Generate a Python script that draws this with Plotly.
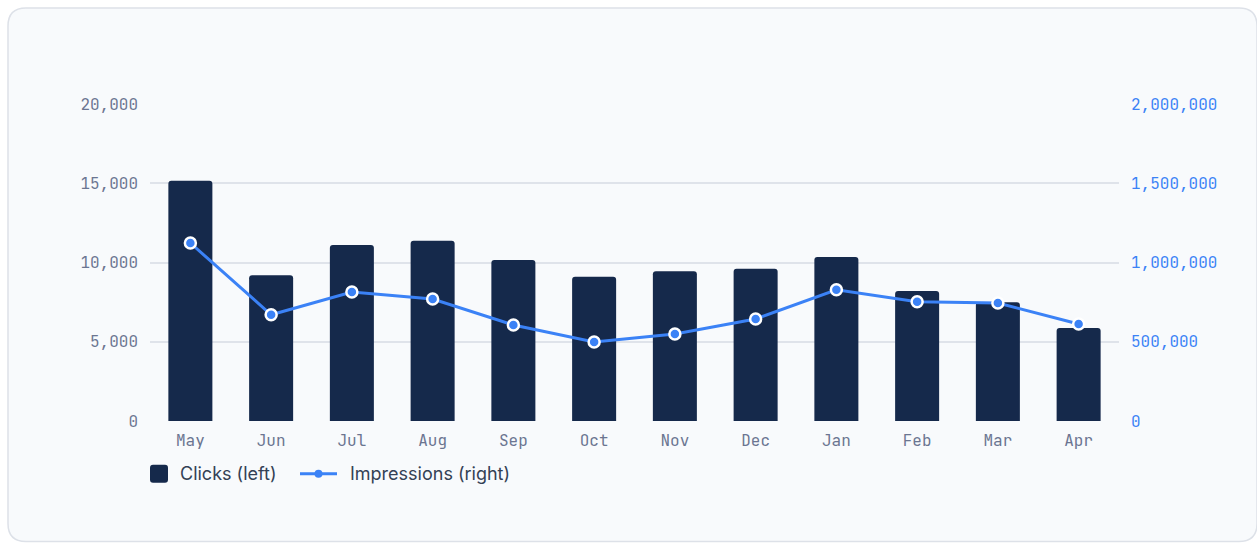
import plotly.graph_objects as go

months = ["May", "Jun", "Jul", "Aug", "Sep", "Oct", "Nov", "Dec", "Jan", "Feb", "Mar", "Apr"]
clicks = [15150, 9200, 11100, 11380, 10150, 9100, 9450, 9600, 10350, 8200, 7500, 5870]
impressions = [1123000, 670000, 814000, 770000, 606000, 498000, 549000, 644000, 828000, 752000, 744000, 612000]
left_ticks = [0, 5000, 10000, 15000, 20000]
right_ticks = [0, 500000, 1000000, 1500000, 2000000]

NAVY = "#15294b"
BLUE = "#3b82f6"
GRID = "#dfe3ea"
TICK = "#6b7591"
TEXT = "#334155"

W, H = 1257, 545
PL, PR, PT, PB = 150, 1119, 104, 421.3


def fx(p):
    return (p - PL) / (PR - PL)


def fy(q):
    return (PB - q) / (PB - PT)


def rrect(x0, y0, x1, y1, r):
    pts = [
        f"M{fx(x0 + r)},{fy(y0)}",
        f"L{fx(x1 - r)},{fy(y0)}",
        f"Q{fx(x1)},{fy(y0)} {fx(x1)},{fy(y0 + r)}",
        f"L{fx(x1)},{fy(y1 - r)}",
        f"Q{fx(x1)},{fy(y1)} {fx(x1 - r)},{fy(y1)}",
        f"L{fx(x0 + r)},{fy(y1)}",
        f"Q{fx(x0)},{fy(y1)} {fx(x0)},{fy(y1 - r)}",
        f"L{fx(x0)},{fy(y0 + r)}",
        f"Q{fx(x0)},{fy(y0)} {fx(x0 + r)},{fy(y0)}",
        "Z",
    ]
    return " ".join(pts)


mono = "JetBrains Mono, DejaVu Sans Mono, monospace"
sans = "Inter, Noto Sans, sans-serif"

fig = go.Figure()
fig.add_trace(go.Bar(
    x=months, y=clicks, name="Clicks (left)",
    marker=dict(color=NAVY, cornerradius=3, line=dict(width=0)),
    yaxis="y", showlegend=False,
))
fig.add_trace(go.Scatter(
    x=months, y=impressions, name="Impressions (right)", mode="lines+markers",
    line=dict(color=BLUE, width=3),
    marker=dict(color=BLUE, size=11, line=dict(color="white", width=2.5)),
    yaxis="y2", showlegend=False,
))

shapes = [
    dict(type="path", xref="paper", yref="paper", path=rrect(8, 8, 1257, 542, 18),
         fillcolor="#f8fafc", line=dict(color="#dde1e8", width=1.5), layer="below"),
    dict(type="path", xref="paper", yref="paper", path=rrect(150, 465, 168, 483, 3),
         fillcolor=NAVY, line=dict(width=0)),
    dict(type="line", xref="paper", yref="paper", x0=fx(300), x1=fx(337), y0=fy(474), y1=fy(474),
         line=dict(color=BLUE, width=3)),
    dict(type="circle", xref="paper", yref="paper", x0=fx(314.5), x1=fx(322.5), y0=fy(478), y1=fy(470),
         fillcolor=BLUE, line=dict(width=0)),
]

annotations = [
    dict(text="Clicks (left)", xref="paper", yref="paper", x=fx(178), y=fy(474),
         xanchor="left", yanchor="middle", showarrow=False, font=dict(family=sans, size=18, color=TEXT)),
    dict(text="Impressions (right)", xref="paper", yref="paper", x=fx(348), y=fy(474),
         xanchor="left", yanchor="middle", showarrow=False, font=dict(family=sans, size=18, color=TEXT)),
]

fig.update_layout(
    width=W, height=H,
    margin=dict(l=PL, r=W - PR, t=PT, b=H - PB),
    paper_bgcolor="white", plot_bgcolor="rgba(0,0,0,0)",
    bargap=0.455,
    showlegend=False,
    shapes=shapes, annotations=annotations,
    xaxis=dict(range=[-0.5, len(months) - 0.5], showgrid=False, showline=False, zeroline=False, ticks="",
               tickfont=dict(family=mono, size=16, color=TICK), ticklabelstandoff=8),
    yaxis=dict(range=[0, 20000], tickvals=left_ticks, tickformat=",", showgrid=True, gridcolor=GRID,
               gridwidth=1.5, zeroline=False, showline=False, ticks="",
               tickfont=dict(family=mono, size=16, color=TICK), ticklabelstandoff=11),
    yaxis2=dict(range=[0, 2000000], tickvals=right_ticks, tickformat=",", overlaying="y", side="right",
                showgrid=False, zeroline=False, showline=False, ticks="",
                tickfont=dict(family=mono, size=16, color=BLUE), ticklabelstandoff=11),
)

fig.write_html("out.html")
